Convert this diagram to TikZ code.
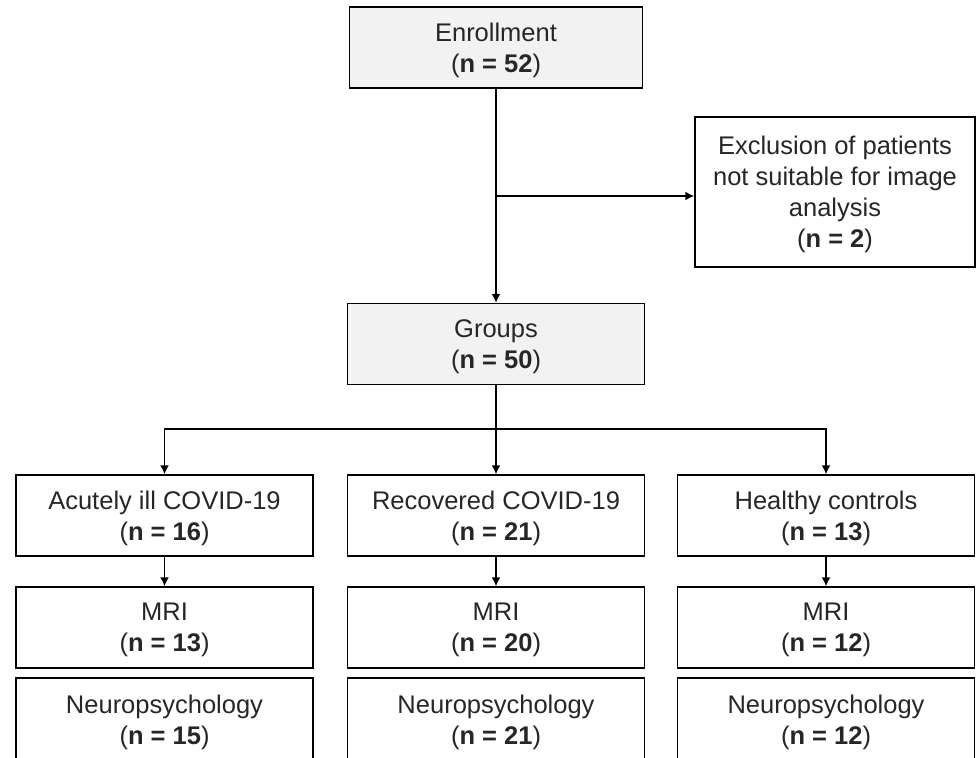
\documentclass[tikz,border=0pt]{standalone}
\usepackage{fontspec}
\setmainfont{Liberation Sans}
\usetikzlibrary{arrows.meta}
\definecolor{boxgray}{HTML}{F2F2F2}
\tikzset{
  box/.style={draw, line width=0.75pt, minimum width=148.5pt, minimum height=40.5pt,
    inner sep=0pt, align=center, text=black!85, text depth=-0.5pt,
    font=\fontsize{12.75}{15.5}\selectfont},
  graybox/.style={box, fill=boxgray},
  arr/.style={line width=0.75pt, -{Latex[length=4.5pt,width=4.5pt]}}
}
\begin{document}
\begin{tikzpicture}[x=0.5pt,y=-0.5pt]
  \clip (0,0) rectangle (977,757);
  \node[graybox, minimum width=146.5pt] (enroll) at (496,47.5) {Enrollment\\(\textbf{n = 52})};
  \node[box, minimum width=140pt, minimum height=75pt] (exclude) at (835,192)
    {Exclusion of patients\\not suitable for image\\analysis\\(\textbf{n = 2})};
  \node[graybox] (groups) at (496,344) {Groups\\(\textbf{n = 50})};
  % first row
  \node[box] (acute) at (164.5,515.5) {Acutely ill COVID-19\\(\textbf{n = 16})};
  \node[box] (recov) at (496,515.5) {Recovered COVID-19\\(\textbf{n = 21})};
  \node[box] (healthy) at (826,515.5) {Healthy controls\\(\textbf{n = 13})};
  % MRI row
  \node[box] (mriA) at (164.5,627.5) {MRI\\(\textbf{n = 13})};
  \node[box] (mriR) at (496,627.5) {MRI\\(\textbf{n = 20})};
  \node[box] (mriH) at (826,627.5) {MRI\\(\textbf{n = 12})};
  % neuropsychology row (cut at the bottom)
  \node[box, minimum height=42pt, anchor=north] (neuroA) at (164.5,677) {Neuropsychology\\(\textbf{n = 15})};
  \node[box, minimum height=42pt, anchor=north] (neuroR) at (496,677) {Neuropsychology\\(\textbf{n = 21})};
  \node[box, minimum height=42pt, anchor=north] (neuroH) at (826,677) {Neuropsychology\\(\textbf{n = 12})};
  % connectors
  \coordinate (split) at (496,196);
  \coordinate (bus) at (496,429);
  \draw[line width=0.75pt] (enroll.south) -- (split);
  \draw[arr] (split) -- (groups.north);
  \draw[arr] (split) -- (split -| exclude.west);
  \draw[arr] (groups.south) -- (recov.north);
  \draw[arr] (bus) -| (acute.north);
  \draw[arr] (bus) -| (healthy.north);
  \draw[arr] (acute.south) -- (mriA.north);
  \draw[arr] (recov.south) -- (mriR.north);
  \draw[arr] (healthy.south) -- (mriH.north);
\end{tikzpicture}
\end{document}
